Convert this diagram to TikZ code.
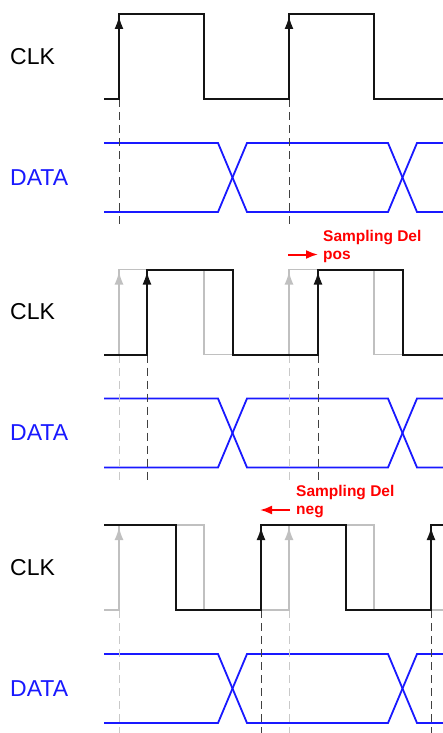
\documentclass[tikz,border=0pt]{standalone}
\usepackage{fontspec}
\setmainfont{Liberation Sans}
\usepackage{xcolor}
\usepackage{tikz}
\usetikzlibrary{arrows.meta}
\definecolor{clkblack}{RGB}{20,20,20}
\definecolor{clkgray}{RGB}{192,192,192}
\definecolor{datablue}{RGB}{25,25,255}
\definecolor{delred}{RGB}{255,0,0}

\begin{document}
\begin{tikzpicture}[
    x=1pt, y=-1pt,
    clk/.style={line width=2pt, clkblack},
    clkold/.style={line width=1.6pt, clkgray},
    data/.style={line width=1.8pt, datablue},
    edge/.style={-{Latex[length=13pt,width=9pt]}, line width=2pt, clkblack},
    edgeold/.style={-{Latex[length=13pt,width=9pt]}, line width=1.6pt, clkgray},
    sample/.style={dash pattern=on 8pt off 5pt, line width=1pt, black!75},
    sampleold/.style={dash pattern=on 8pt off 5pt, line width=1pt, clkgray!85},
    lbl/.style={font=\fontsize{23}{28}\selectfont, anchor=west, inner sep=0pt},
    note/.style={font=\fontsize{15.5}{18}\selectfont\bfseries, delred, align=left, anchor=north west, inner sep=0pt},
    delay/.style={-{Latex[length=12pt,width=9pt]}, line width=2pt, delred}
]
\useasboundingbox (0,0) rectangle (443,733);
\clip (0,0) rectangle (443,733);

% Data lines, the same in every panel
\foreach \p in {0,255.5,511} {
    \begin{scope}[shift={(0,\p)}]
        \node[lbl, datablue] (data\p) at (10,177.5) {DATA};
        \node[lbl] (clk\p) at (10,56.5) {CLK};
        \draw[data] (104,143) -- (218,143) -- (247,212) -- (388,212) -- (417,143) -- (443,143);
        \draw[data] (104,212) -- (218,212) -- (247,143) -- (388,143) -- (417,212) -- (443,212);
    \end{scope}
}

% Panel 1: nominal clock
\foreach \x in {119,289} {
    \draw[sample] (\x,99) -- (\x,224);
}
\draw[clk] (104,99) -- (119,99) -- (119,14) -- (204,14) -- (204,99) -- (289,99)
    -- (289,14) -- (374,14) -- (374,99) -- (443,99);
\foreach \x in {119,289} {
    \draw[edge] (\x,99) -- (\x,16);
}

% Panel 2: positive sampling delay
\begin{scope}[shift={(0,255.5)}]
    \foreach \x in {119,289} {
        \draw[sampleold] (\x,99) -- (\x,224);
    }
    \foreach \x in {147,318} {
        \draw[sample] (\x,99) -- (\x,224);
    }
    \draw[clkold] (104,99) -- (119,99) -- (119,14) -- (204,14) -- (204,99) -- (289,99)
        -- (289,14) -- (374,14) -- (374,99) -- (443,99);
    \foreach \x in {119,289} {
        \draw[edgeold] (\x,99) -- (\x,16);
    }
    \draw[clk] (104,99) -- (147,99) -- (147,14) -- (233,14) -- (233,99) -- (318,99)
        -- (318,14) -- (403,14) -- (403,99) -- (443,99);
    \foreach \x in {147,318} {
        \draw[edge] (\x,99) -- (\x,16);
    }
    % Label
    \node[note] (delpos) at (323,-25.5) {Sampling Del\\pos};
    \coordinate (pos0) at (288,-1);
    \coordinate (pos1) at (318,-1);
    \draw[delay] (pos0) -- (pos1);
\end{scope}

% Panel 3: negative sampling delay
\begin{scope}[shift={(0,511)}]
    \foreach \x in {119,289} {
        \draw[sampleold] (\x,99) -- (\x,224);
    }
    \foreach \x in {261,431} {
        \draw[sample] (\x,99) -- (\x,224);
    }
    \draw[clkold] (104,99) -- (119,99) -- (119,14) -- (204,14) -- (204,99) -- (289,99)
        -- (289,14) -- (374,14) -- (374,99) -- (443,99);
    \foreach \x in {119,289} {
        \draw[edgeold] (\x,99) -- (\x,16);
    }
    \draw[clk] (104,14) -- (176,14) -- (176,99) -- (261,99) -- (261,14) -- (346,14)
        -- (346,99) -- (431,99) -- (431,14) -- (443,14);
    \foreach \x in {261,431} {
        \draw[edge] (\x,99) -- (\x,16);
    }
    % Label
    \node[note] (delneg) at (296,-26) {Sampling Del\\neg};
    \coordinate (neg0) at (290,-1);
    \coordinate (neg1) at (260,-1);
    \draw[delay] (neg0) -- (neg1);
\end{scope}

\end{tikzpicture}
\end{document}
